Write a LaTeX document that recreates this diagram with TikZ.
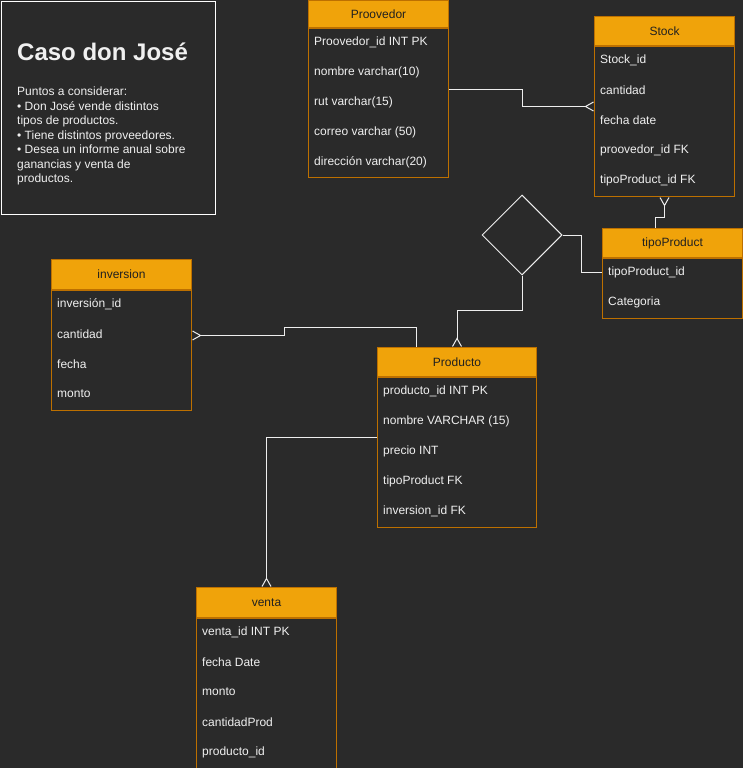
\documentclass[tikz,border=0pt]{standalone}
\usepackage{fontspec}
\setmainfont{Liberation Sans}
\usetikzlibrary{arrows.meta,shapes.geometric}

\definecolor{canvas}{HTML}{2A2A2A}
\definecolor{headfill}{HTML}{F0A30A}
\definecolor{headline}{HTML}{BD7000}
\definecolor{headtext}{HTML}{202020}
\definecolor{rowtext}{HTML}{F0F0F0}
\definecolor{linkcol}{HTML}{EEEEEE}

\begin{document}
\begin{tikzpicture}[x=1pt, y=-1pt, >={Straight Barb[reversed,length=8pt,width=9pt]},
    tablehead/.style={draw=headline, fill=headfill, text=headtext, anchor=north west, inner sep=0,
      minimum width=140pt, minimum height=30pt, line width=1pt, font=\fontsize{12}{14}\selectfont},
    tablebody/.style={draw=headline, anchor=north west, inner sep=0, minimum width=140pt, line width=1pt},
    rowlabel/.style={text=rowtext, anchor=west, inner sep=0, font=\fontsize{12}{14}\selectfont},
    link/.style={draw=linkcol, line width=1pt}]
    \fill[canvas] (0,0) rectangle (743,768);
    \useasboundingbox (0,0) rectangle (743,768);

    % note
    \node[draw=white, line width=1pt, anchor=north west, minimum width=214pt, minimum height=213pt, inner sep=0] (note) at (1,1) {};
    \node[anchor=base west, text=rowtext, inner sep=0, font=\fontsize{24}{28}\selectfont\bfseries] (title) at (17,61) {Caso don José};
    \node[anchor=north west, align=left, text=rowtext, inner sep=0, font=\fontsize{12}{14.5}\selectfont] (points) at (17,87)
      {Puntos a considerar:\\• Don José vende distintos\\tipos de productos.\\• Tiene distintos proveedores.\\• Desea un informe anual sobre\\ganancias y venta de\\productos.};

    % Proovedor
    \node[tablehead, minimum height=27pt] (provhead) at (308,0) {Proovedor};
    \node[tablebody, minimum height=149pt] (provbody) at (provhead.south west) {};
    \foreach \t [count=\i] in {Proovedor\_id INT PK, nombre varchar(10), rut varchar(15), correo varchar (50), dirección varchar(20)}
      \node[rowlabel] (prov-\i) at ([xshift=6pt, yshift=-14pt-30pt*(\i-1)]provbody.north west) {\t};

    % Stock
    \node[tablehead, minimum height=29pt] (stockhead) at (594,16) {Stock};
    \node[tablebody, minimum height=150pt] (stockbody) at (stockhead.south west) {};
    \foreach \t [count=\i] in {Stock\_id, cantidad, fecha date, proovedor\_id FK, tipoProduct\_id FK}
      \node[rowlabel] (stock-\i) at ([xshift=6pt, yshift=-14pt-30pt*(\i-1)]stockbody.north west) {\t};

    % tipoProduct
    \node[tablehead, minimum height=29pt] (tiphead) at (602,228) {tipoProduct};
    \node[tablebody, minimum height=60pt] (tipbody) at (tiphead.south west) {};
    \foreach \t [count=\i] in {tipoProduct\_id, Categoria}
      \node[rowlabel] (tip-\i) at ([xshift=6pt, yshift=-14pt-30pt*(\i-1)]tipbody.north west) {\t};

    % inversion
    \node[tablehead] (invhead) at (51,259) {inversion};
    \node[tablebody, minimum height=120pt] (invbody) at (invhead.south west) {};
    \foreach \t [count=\i] in {inversión\_id, cantidad, fecha, monto}
      \node[rowlabel] (inv-\i) at ([xshift=6pt, yshift=-14pt-30pt*(\i-1)]invbody.north west) {\t};

    % Producto
    \node[tablehead, minimum width=159pt, minimum height=29pt] (prodhead) at (377,347) {Producto};
    \node[tablebody, minimum width=159pt, minimum height=150pt] (prodbody) at (prodhead.south west) {};
    \foreach \t [count=\i] in {producto\_id INT PK, nombre VARCHAR (15), precio INT, tipoProduct FK, inversion\_id FK}
      \node[rowlabel] (prod-\i) at ([xshift=6pt, yshift=-14pt-30pt*(\i-1)]prodbody.north west) {\t};

    % venta
    \node[tablehead] (ventahead) at (196,587) {venta};
    \node[tablebody, minimum height=150pt] (ventabody) at (ventahead.south west) {};
    \foreach \t [count=\i] in {venta\_id INT PK, fecha Date, monto, cantidadProd, producto\_id}
      \node[rowlabel] (venta-\i) at ([xshift=6pt, yshift=-14pt-30pt*(\i-1)]ventabody.north west) {\t};

    % relationship
    \node[diamond, draw=linkcol, line width=1pt, minimum width=80pt, minimum height=80pt, inner sep=0] (rel) at (522,235) {};

    % connectors
    \draw[link, ->] ([yshift=13.5pt]provbody.east) -- ++(73,0) |- ([yshift=15pt]stockbody.west);
    \draw[link, <-] (stockbody.south) -- ++(0,20) -| ([xshift=-17pt]tiphead.north);
    \draw[link] (rel.east) -- ++(19,0) |- (tipbody.west |- tip-1);
    \draw[link, ->] (rel.south) -- ++(0,35) -| (prodhead.north);
    \draw[link, ->] ([xshift=-40.5pt]prodhead.north) -- ++(0,-20) -- ++(-132,0) |- ([yshift=15pt]invbody.east);
    \draw[link, ->] ([yshift=15pt]prodbody.west) -| (ventahead.north);
\end{tikzpicture}
\end{document}
